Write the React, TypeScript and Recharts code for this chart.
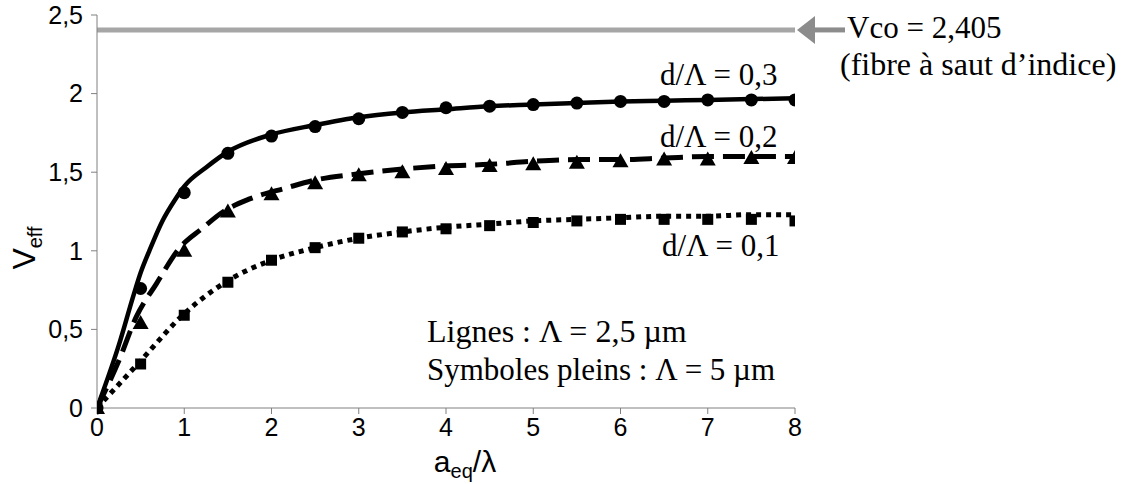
import { ComposedChart, Line, Scatter, XAxis, YAxis, ReferenceLine } from 'recharts';

// abscisse des symboles (Λ = 5 µm)
const symX = [0, 0.5, 1, 1.5, 2, 2.5, 3, 3.5, 4, 4.5, 5, 5.5, 6, 6.5, 7, 7.5, 8];
const circlesY = [0, 0.76, 1.37, 1.62, 1.73, 1.79, 1.84, 1.88, 1.91, 1.92, 1.93, 1.94, 1.95, 1.95, 1.96, 1.96, 1.96];
const trianglesY = [0, 0.54, 1.0, 1.25, 1.36, 1.43, 1.48, 1.5, 1.52, 1.54, 1.55, 1.56, 1.57, 1.58, 1.58, 1.59, 1.59];
const squaresY = [0, 0.28, 0.59, 0.8, 0.94, 1.02, 1.08, 1.12, 1.14, 1.16, 1.18, 1.19, 1.2, 1.2, 1.2, 1.2, 1.19];

// lignes (Λ = 2,5 µm)
const solidX = [0, 0.25, 0.42, 0.5, 0.6, 0.75, 0.9, 1, 1.25, 1.5, 2, 2.5, 3, 3.5, 4, 4.5, 5, 5.5, 6, 6.5, 7, 7.5, 8];
const solidY = [0, 0.4, 0.72, 0.86, 1.0, 1.19, 1.33, 1.41, 1.53, 1.63, 1.74, 1.8, 1.85, 1.88, 1.9, 1.92, 1.93, 1.94, 1.95, 1.955, 1.96, 1.965, 1.97];
const dashX = [0, 0.25, 0.45, 0.68, 0.95, 1.2, 1.45, 1.75, 2.17, 2.5, 3, 3.5, 4, 4.5, 5, 5.5, 6, 6.5, 7, 7.5, 8];
const dashY = [0, 0.3, 0.58, 0.79, 1.02, 1.14, 1.25, 1.33, 1.4, 1.45, 1.49, 1.52, 1.54, 1.55, 1.57, 1.58, 1.58, 1.59, 1.6, 1.6, 1.6];
const dotX = [0, 0.5, 1, 1.5, 2, 2.5, 3, 3.5, 4, 4.5, 5, 5.5, 6, 6.5, 7, 7.5, 8];
const dotY = [0, 0.3, 0.6, 0.81, 0.94, 1.02, 1.08, 1.12, 1.15, 1.17, 1.19, 1.2, 1.21, 1.22, 1.22, 1.23, 1.23];

const xTicks = [0, 1, 2, 3, 4, 5, 6, 7, 8];
const yTicks = [0, 0.5, 1, 1.5, 2, 2.5];
const VCO = 2.405;

const toPts = (xs: number[], ys: number[]) => xs.map((x, i) => ({ x, y: ys[i] }));

const serif = '"Liberation Serif", "Times New Roman", serif';
const sans = '"Liberation Sans", Arial, sans-serif';

const Circle = (p: any) => <circle cx={p.cx} cy={p.cy} r={6.5} fill="#000" />;
const Triangle = (p: any) => (
  <polygon points={`${p.cx},${p.cy - 8} ${p.cx - 8},${p.cy + 6} ${p.cx + 8},${p.cy + 6}`} fill="#000" />
);
const Square = (p: any) => <rect x={p.cx - 5.5} y={p.cy - 5.5} width={11} height={11} fill="#000" />;

const VcoLabel = (props: any) => {
  const vb = props.viewBox;
  const x = vb.x + vb.width;
  const y = vb.y;
  return (
    <g>
      <polygon points={`${x + 2},${y} ${x + 20},${y - 14} ${x + 20},${y + 14}`} fill="#8c8c8c" />
      <line x1={x + 20} y1={y} x2={x + 50} y2={y} stroke="#8c8c8c" strokeWidth={5} />
      <text x={x + 52} y={y + 8} fontFamily={serif} fontSize={31} fill="#000">Vco = 2,405</text>
      <text x={x + 45} y={y + 45} fontFamily={serif} fontSize={32} fill="#000">(fibre à saut d’indice)</text>
    </g>
  );
};

const YLabel = () => (
  <text transform="translate(35, 248) rotate(-90)" textAnchor="middle" fontFamily={sans} fontSize={32} fill="#000">
    V<tspan fontSize={20} dy={7}>eff</tspan>
  </text>
);

const XLabel = () => (
  <text x={465} y={472} textAnchor="middle" fontFamily={sans} fontSize={30} fill="#000">
    a<tspan fontSize={20} dy={6}>eq</tspan>
    <tspan dy={-6}>/λ</tspan>
  </text>
);

const tickStyle = { fontFamily: sans, fontSize: 25, fill: '#000' };

export default function App() {
  return (
    <div style={{ position: 'absolute', left: 0, top: 0, width: 1128, height: 484, background: '#fff' }}>
      <ComposedChart width={1128} height={484} margin={{ top: 15, right: 333, bottom: 0, left: 0 }}>
        <XAxis
          type="number"
          dataKey="x"
          domain={[0, 8]}
          ticks={xTicks}
          height={76}
          tick={tickStyle}
          tickSize={6}
          tickMargin={4}
          stroke="#808080"
          allowDataOverflow
          label={<XLabel />}
        />
        <YAxis
          type="number"
          dataKey="y"
          domain={[0, 2.5]}
          ticks={yTicks}
          width={97}
          tick={tickStyle}
          tickSize={6}
          tickMargin={8}
          stroke="#808080"
          tickFormatter={(v: number) => String(v).replace('.', ',')}
          label={<YLabel />}
        />
        <ReferenceLine y={VCO} stroke="#a6a6a6" strokeWidth={5} label={(p: any) => <VcoLabel {...p} />} />
        <Line data={toPts(dotX, dotY)} dataKey="y" type="monotone" stroke="#000" strokeWidth={5} strokeDasharray="5 5" dot={false} isAnimationActive={false} />
        <Line data={toPts(dashX, dashY)} dataKey="y" type="monotone" stroke="#000" strokeWidth={5} strokeDasharray="22 9" dot={false} isAnimationActive={false} />
        <Line data={toPts(solidX, solidY)} dataKey="y" type="monotone" stroke="#000" strokeWidth={4.5} dot={false} isAnimationActive={false} />
        <Scatter data={toPts(symX, circlesY)} dataKey="y" shape={Circle} isAnimationActive={false} />
        <Scatter data={toPts(symX, trianglesY)} dataKey="y" shape={Triangle} isAnimationActive={false} />
        <Scatter data={toPts(symX, squaresY)} dataKey="y" shape={Square} isAnimationActive={false} />
      </ComposedChart>
      <svg width={1128} height={484} style={{ position: 'absolute', left: 0, top: 0, pointerEvents: 'none' }}>
        <g fontFamily={serif} fontSize={31} fill="#000">
          <text x={660} y={85}>d/Λ = 0,3</text>
          <text x={660} y={147}>d/Λ = 0,2</text>
          <text x={662} y={256}>d/Λ = 0,1</text>
          <text x={427} y={342} fontSize={32}>Lignes : Λ = 2,5 µm</text>
          <text x={427} y={380}>Symboles pleins : Λ = 5 µm</text>
        </g>
      </svg>
    </div>
  );
}
